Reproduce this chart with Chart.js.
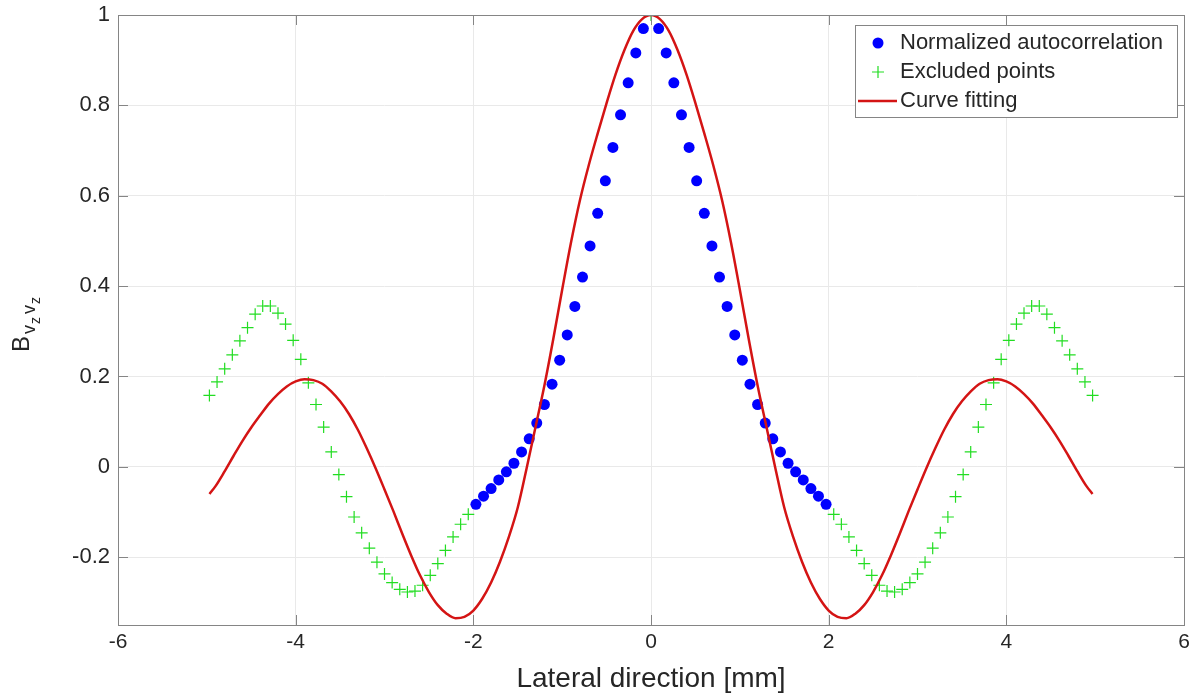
<!DOCTYPE html>
<html>
<head>
<meta charset="utf-8">
<script src="https://cdn.jsdelivr.net/npm/chart.js@4"></script>
<style>
  html, body { margin: 0; padding: 0; background: #fff; }
  canvas { display: block; }
</style>
</head>
<body>
<canvas id="grafico" width="1198" height="700"></canvas>
<script>
// lateral positions (mm) and values
var autocorrX = [-1.971, -1.885, -1.800, -1.714, -1.628, -1.543, -1.457, -1.371, -1.286, -1.200, -1.114, -1.028,
                 -0.943, -0.857, -0.771, -0.686, -0.600, -0.514, -0.429, -0.343, -0.257, -0.171, -0.086,
                 0.086, 0.171, 0.257, 0.343, 0.429, 0.514, 0.600, 0.686, 0.771, 0.857, 0.943,
                 1.028, 1.114, 1.200, 1.286, 1.371, 1.457, 1.543, 1.628, 1.714, 1.800, 1.885, 1.971];
var autocorrY = [-0.083, -0.065, -0.048, -0.029, -0.011, 0.008, 0.033, 0.062, 0.097, 0.138, 0.183, 0.236,
                 0.292, 0.355, 0.420, 0.489, 0.561, 0.633, 0.707, 0.779, 0.850, 0.916, 0.970,
                 0.970, 0.916, 0.850, 0.779, 0.707, 0.633, 0.561, 0.489, 0.420, 0.355, 0.292,
                 0.236, 0.183, 0.138, 0.097, 0.062, 0.033, 0.008, -0.011, -0.029, -0.048, -0.065, -0.083];

var excludedX = [-4.971, -4.885, -4.799, -4.713, -4.628, -4.542, -4.456, -4.371, -4.285, -4.199, -4.114, -4.028,
                 -3.942, -3.857, -3.771, -3.685, -3.599, -3.514, -3.428, -3.342, -3.257, -3.171, -3.085, -3.000,
                 -2.914, -2.828, -2.742, -2.657, -2.571, -2.485, -2.400, -2.314, -2.228, -2.143, -2.057,
                 0,
                 2.057, 2.143, 2.228, 2.314, 2.400, 2.485, 2.571, 2.657, 2.742, 2.828, 2.914,
                 3.000, 3.085, 3.171, 3.257, 3.342, 3.428, 3.514, 3.599, 3.685, 3.771, 3.857, 3.942,
                 4.028, 4.114, 4.199, 4.285, 4.371, 4.456, 4.542, 4.628, 4.713, 4.799, 4.885, 4.971];
var excludedY = [0.158, 0.188, 0.217, 0.248, 0.279, 0.308, 0.338, 0.356, 0.356, 0.340, 0.316, 0.280,
                 0.238, 0.186, 0.138, 0.088, 0.033, -0.017, -0.066, -0.111, -0.146, -0.180, -0.211, -0.237,
                 -0.256, -0.271, -0.277, -0.275, -0.262, -0.240, -0.214, -0.185, -0.155, -0.127, -0.105,
                 1.000,
                 -0.105, -0.127, -0.155, -0.185, -0.214, -0.240, -0.262, -0.275, -0.277, -0.271, -0.256,
                 -0.237, -0.211, -0.180, -0.146, -0.111, -0.066, -0.017, 0.033, 0.088, 0.138, 0.186, 0.238,
                 0.280, 0.316, 0.340, 0.356, 0.356, 0.338, 0.308, 0.279, 0.248, 0.217, 0.188, 0.158];

// fitted curve, read every 0.1 mm
var fitX = [-4.97, -4.9, -4.8, -4.7, -4.6, -4.5, -4.4, -4.3, -4.2, -4.1, -4.0, -3.9, -3.8, -3.7, -3.6, -3.5,
            -3.4, -3.3, -3.2, -3.1, -3.0, -2.9, -2.8, -2.7, -2.6, -2.5, -2.4, -2.3, -2.2, -2.1, -2.0,
            -1.9, -1.8, -1.7, -1.6, -1.5, -1.4, -1.3, -1.2, -1.1, -1.0, -0.9, -0.8, -0.7, -0.6, -0.5,
            -0.4, -0.3, -0.2, -0.1, 0,
            0.1, 0.2, 0.3, 0.4, 0.5, 0.6, 0.7, 0.8, 0.9, 1.0, 1.1, 1.2, 1.3, 1.4, 1.5, 1.6, 1.7, 1.8, 1.9,
            2.0, 2.1, 2.2, 2.3, 2.4, 2.5, 2.6, 2.7, 2.8, 2.9, 3.0, 3.1, 3.2, 3.3, 3.4,
            3.5, 3.6, 3.7, 3.8, 3.9, 4.0, 4.1, 4.2, 4.3, 4.4, 4.5, 4.6, 4.7, 4.8, 4.9, 4.97];
var fitY = [-0.060, -0.042, -0.010, 0.024, 0.057, 0.087, 0.114, 0.140, 0.161, 0.178, 0.189, 0.194, 0.192, 0.184, 0.167, 0.145,
            0.117, 0.082, 0.041, -0.003, -0.050, -0.098, -0.148, -0.196, -0.240, -0.277, -0.306, -0.325, -0.335, -0.332, -0.318,
            -0.292, -0.256, -0.210, -0.155, -0.090, -0.003, 0.088, 0.180, 0.283, 0.392, 0.497, 0.590, 0.668, 0.738, 0.805,
            0.868, 0.922, 0.965, 0.991, 1.000,
            0.991, 0.965, 0.922, 0.868, 0.805, 0.738, 0.668, 0.590, 0.497, 0.392, 0.283, 0.180, 0.088, -0.003, -0.090, -0.155, -0.210, -0.256, -0.292,
            -0.318, -0.332, -0.335, -0.325, -0.306, -0.277, -0.240, -0.196, -0.148, -0.098, -0.050, -0.003, 0.041, 0.082, 0.117,
            0.145, 0.167, 0.184, 0.192, 0.194, 0.189, 0.178, 0.161, 0.140, 0.114, 0.087, 0.057, 0.024, -0.010, -0.042, -0.060];

var xTicks = [-6, -4, -2, 0, 2, 4, 6];
var yTicks = [-0.2, 0, 0.2, 0.4, 0.6, 0.8, 1];

var seriesNames = ['Normalized autocorrelation', 'Excluded points', 'Curve fitting'];

function pares(xs, ys) {
    return xs.map(function (x, i) { return { x: x, y: ys[i] }; });
}

var FONTE = "'Liberation Sans', Arial, Helvetica, sans-serif";
var TEXTO = '#262626';
var CAIXA = '#858585';

// box round the axes with inward ticks, MATLAB style
var caixaPlugin = {
    id: 'caixa',
    afterDatasetsDraw: function (chart) {
        var ctx = chart.ctx, a = chart.chartArea;
        var sx = chart.scales.x, sy = chart.scales.y;
        var tl = 10;
        ctx.save();
        ctx.strokeStyle = CAIXA;
        ctx.lineWidth = 1;
        ctx.beginPath();
        xTicks.forEach(function (t) {
            var px = Math.round(sx.getPixelForValue(t)) + 0.5;
            ctx.moveTo(px, a.bottom); ctx.lineTo(px, a.bottom - tl);
            ctx.moveTo(px, a.top); ctx.lineTo(px, a.top + tl);
        });
        yTicks.forEach(function (t) {
            var py = Math.round(sy.getPixelForValue(t)) + 0.5;
            ctx.moveTo(a.left, py); ctx.lineTo(a.left + tl, py);
            ctx.moveTo(a.right, py); ctx.lineTo(a.right - tl, py);
        });
        ctx.stroke();
        ctx.strokeRect(Math.round(a.left) + 0.5, Math.round(a.top) + 0.5,
                       Math.round(a.right - a.left), Math.round(a.bottom - a.top));
        ctx.restore();
    }
};

// legend box in the upper right corner plus the y axis label with subscripts
var legendaPlugin = {
    id: 'legenda',
    afterDraw: function (chart) {
        var ctx = chart.ctx, a = chart.chartArea;
        var ds = chart.data.datasets;
        var w = 322, h = 92;
        var x0 = a.right - 7 - w, y0 = a.top + 10;
        ctx.save();
        ctx.fillStyle = '#fff';
        ctx.fillRect(x0, y0, w, h);
        ctx.strokeStyle = CAIXA;
        ctx.lineWidth = 1;
        ctx.strokeRect(Math.round(x0) + 0.5, Math.round(y0) + 0.5, w, h);
        var mx = x0 + 23, tx = x0 + 45;
        var linhas = [y0 + 18, y0 + 47, y0 + 76];
        // blue dot
        ctx.fillStyle = ds[0].backgroundColor;
        ctx.beginPath(); ctx.arc(mx, linhas[0], 5.5, 0, Math.PI * 2); ctx.fill();
        // green plus
        ctx.strokeStyle = ds[1].borderColor; ctx.lineWidth = 1.2;
        ctx.beginPath();
        ctx.moveTo(mx - 6, linhas[1]); ctx.lineTo(mx + 6, linhas[1]);
        ctx.moveTo(mx, linhas[1] - 6); ctx.lineTo(mx, linhas[1] + 6);
        ctx.stroke();
        // red line
        ctx.strokeStyle = ds[2].borderColor; ctx.lineWidth = ds[2].borderWidth;
        ctx.beginPath(); ctx.moveTo(x0 + 3, linhas[2]); ctx.lineTo(x0 + 42, linhas[2]); ctx.stroke();
        ctx.fillStyle = TEXTO;
        ctx.font = '22px ' + FONTE;
        ctx.textBaseline = 'middle';
        ctx.textAlign = 'left';
        for (var i = 0; i < 3; i++) ctx.fillText(ds[i].label, tx, linhas[i]);

        // y label: B_{v_z v_z}
        ctx.translate(29, 352);
        ctx.rotate(-Math.PI / 2);
        ctx.textBaseline = 'alphabetic';
        ctx.font = '24px ' + FONTE;
        ctx.fillText('B', 0, 0);
        ctx.font = '18px ' + FONTE;
        ctx.fillText('v', 18, 6);
        ctx.font = '14px ' + FONTE;
        ctx.fillText('z', 28, 11);
        ctx.font = '18px ' + FONTE;
        ctx.fillText('v', 38, 6);
        ctx.font = '14px ' + FONTE;
        ctx.fillText('z', 48, 11);
        ctx.restore();
    }
};

var ctx = document.getElementById('grafico').getContext('2d');
var myChart = new Chart(ctx, {
    type: 'scatter',
    data: {
        datasets: [{
            label: seriesNames[0],
            data: pares(autocorrX, autocorrY),
            backgroundColor: '#0000ff',
            borderColor: '#0000ff',
            pointStyle: 'circle',
            pointRadius: 5.5,
            pointBorderWidth: 0,
            showLine: false,
            order: 3
        }, {
            label: seriesNames[1],
            data: pares(excludedX, excludedY),
            backgroundColor: '#22dd22',
            borderColor: '#22dd22',
            pointStyle: 'cross',
            pointRadius: 6,
            pointBorderWidth: 1.2,
            showLine: false,
            order: 2
        }, {
            label: seriesNames[2],
            data: pares(fitX, fitY),
            borderColor: '#d41414',
            borderWidth: 2.5,
            pointRadius: 0,
            showLine: true,
            fill: false,
            cubicInterpolationMode: 'monotone',
            order: 1
        }]
    },
    options: {
        responsive: false,
        animation: false,
        devicePixelRatio: 1,
        layout: { padding: { top: 15, right: 14, left: 0, bottom: 0 } },
        scales: {
            x: {
                type: 'linear',
                min: -6,
                max: 6,
                afterBuildTicks: function (s) { s.ticks = xTicks.map(function (v) { return { value: v }; }); },
                afterFit: function (s) { s.height = 75; s.paddingLeft = 0; s.paddingRight = 0; },
                grid: { color: '#e9e9e9', drawTicks: false },
                border: { display: false },
                ticks: { padding: 5, color: TEXTO, font: { family: FONTE, size: 21 }, maxRotation: 0 },
                title: {
                    display: true,
                    text: 'Lateral direction [mm]',
                    color: TEXTO,
                    font: { family: FONTE, size: 28 },
                    padding: { top: 0, bottom: 4 }
                }
            },
            y: {
                min: -0.35,
                max: 1,
                afterBuildTicks: function (s) { s.ticks = yTicks.map(function (v) { return { value: v }; }); },
                afterFit: function (s) { s.width = 118; s.paddingTop = 0; s.paddingBottom = 0; },
                grid: { color: '#e9e9e9', drawTicks: false },
                border: { display: false },
                ticks: {
                    padding: 8,
                    color: TEXTO,
                    font: { family: FONTE, size: 22 },
                    callback: function (v) { return String(Math.round(v * 10) / 10); }
                }
            }
        },
        plugins: {
            legend: { display: false },
            tooltip: { enabled: false }
        }
    },
    plugins: [caixaPlugin, legendaPlugin]
});
</script>
</body>
</html>
